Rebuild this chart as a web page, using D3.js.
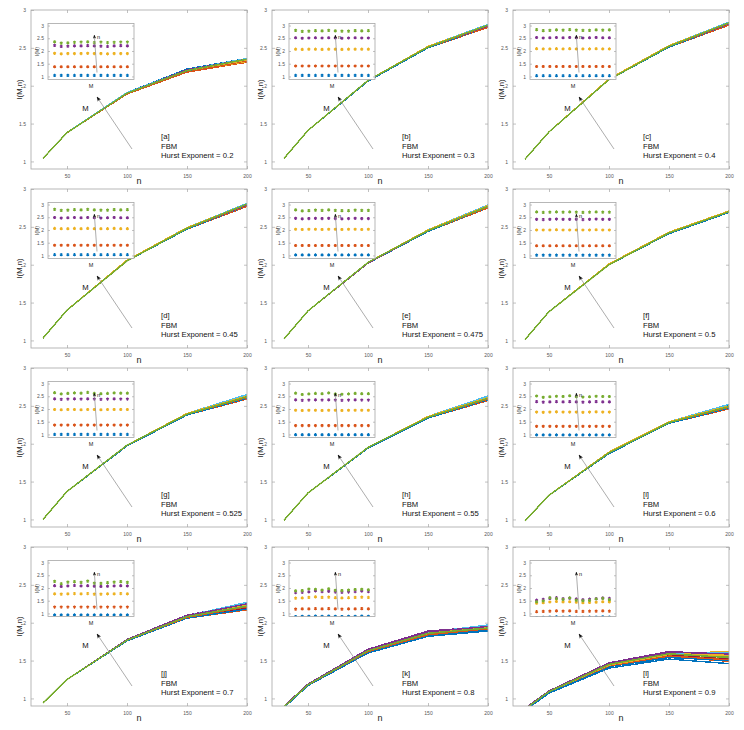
<!DOCTYPE html>
<html>
<head>
<meta charset="utf-8">
<script src="https://cdn.jsdelivr.net/npm/d3@7"></script>
<style>
  body { margin: 0; background: #fff; }
  text { font-family: "Liberation Sans", Arial, Helvetica, sans-serif; }
</style>
</head>
<body>
<div id="chart"></div>
<script>
var svgWidth = 744;
var svgHeight = 730;

// n on the x axis of the main plots, M along the inset x axis
var nValues = [30, 50, 100, 150, 200];
var mValues = [1, 2, 3, 4, 5, 6, 7, 8, 9, 10, 11, 12];
var panelTags = ["a", "b", "c", "d", "e", "f", "g", "h", "i", "j", "k", "l"];
var hurstValues = [0.2, 0.3, 0.4, 0.45, 0.475, 0.5, 0.525, 0.55, 0.6, 0.7, 0.8, 0.9];
var yTicks = [1, 1.5, 2, 2.5, 3];
var xTicks = [50, 100, 150, 200];
var matlabColors = ["#0072BD", "#D95319", "#EDB120", "#7E2F8E", "#77AC30", "#4DBEEE", "#A2142F"];

// I(M,n): one row per n (30, 50, 100, 150, 200), twelve values along M
var valuesA = [
  [1.04, 1.04, 1.04, 1.04, 1.04, 1.04, 1.04, 1.04, 1.04, 1.04, 1.04, 1.04],
  [1.38, 1.38, 1.38, 1.38, 1.38, 1.38, 1.38, 1.38, 1.38, 1.38, 1.38, 1.38],
  [1.91, 1.89, 1.90, 1.90, 1.90, 1.91, 1.90, 1.90, 1.89, 1.90, 1.90, 1.90],
  [2.22, 2.18, 2.19, 2.20, 2.20, 2.21, 2.20, 2.19, 2.18, 2.20, 2.21, 2.20],
  [2.36, 2.31, 2.32, 2.34, 2.35, 2.36, 2.33, 2.35, 2.33, 2.34, 2.35, 2.35]
];
var valuesB = [
  [1.04, 1.04, 1.04, 1.04, 1.04, 1.04, 1.04, 1.04, 1.04, 1.04, 1.04, 1.04],
  [1.41, 1.41, 1.41, 1.41, 1.41, 1.41, 1.41, 1.41, 1.41, 1.41, 1.41, 1.41],
  [2.07, 2.06, 2.07, 2.07, 2.06, 2.07, 2.07, 2.06, 2.07, 2.07, 2.07, 2.07],
  [2.52, 2.50, 2.51, 2.52, 2.51, 2.52, 2.51, 2.50, 2.51, 2.52, 2.51, 2.51],
  [2.81, 2.77, 2.78, 2.80, 2.79, 2.81, 2.79, 2.78, 2.78, 2.80, 2.79, 2.80]
];
var valuesC = [
  [1.03, 1.03, 1.03, 1.03, 1.03, 1.03, 1.03, 1.03, 1.03, 1.03, 1.03, 1.03],
  [1.39, 1.39, 1.39, 1.39, 1.39, 1.39, 1.39, 1.39, 1.39, 1.39, 1.39, 1.39],
  [2.09, 2.08, 2.08, 2.09, 2.08, 2.09, 2.08, 2.08, 2.08, 2.09, 2.08, 2.08],
  [2.53, 2.51, 2.52, 2.53, 2.52, 2.53, 2.52, 2.51, 2.52, 2.53, 2.52, 2.52],
  [2.84, 2.80, 2.81, 2.83, 2.82, 2.84, 2.82, 2.81, 2.81, 2.83, 2.82, 2.83]
];
var valuesD = [
  [1.03, 1.03, 1.03, 1.03, 1.03, 1.03, 1.03, 1.03, 1.03, 1.03, 1.03, 1.03],
  [1.40, 1.40, 1.40, 1.40, 1.40, 1.40, 1.40, 1.40, 1.40, 1.40, 1.40, 1.40],
  [2.06, 2.05, 2.05, 2.06, 2.05, 2.06, 2.05, 2.05, 2.05, 2.06, 2.05, 2.05],
  [2.49, 2.47, 2.48, 2.49, 2.48, 2.49, 2.48, 2.47, 2.48, 2.49, 2.48, 2.48],
  [2.81, 2.77, 2.78, 2.80, 2.79, 2.81, 2.79, 2.78, 2.78, 2.80, 2.79, 2.80]
];
var valuesE = [
  [1.02, 1.02, 1.02, 1.02, 1.02, 1.02, 1.02, 1.02, 1.02, 1.02, 1.02, 1.02],
  [1.39, 1.39, 1.39, 1.39, 1.39, 1.39, 1.39, 1.39, 1.39, 1.39, 1.39, 1.39],
  [2.03, 2.02, 2.03, 2.03, 2.02, 2.03, 2.03, 2.02, 2.03, 2.03, 2.02, 2.03],
  [2.46, 2.44, 2.45, 2.46, 2.45, 2.46, 2.45, 2.44, 2.45, 2.46, 2.45, 2.45],
  [2.79, 2.75, 2.76, 2.78, 2.77, 2.79, 2.77, 2.76, 2.76, 2.78, 2.77, 2.77]
];
var valuesF = [
  [1.01, 1.01, 1.01, 1.01, 1.01, 1.01, 1.01, 1.01, 1.01, 1.01, 1.01, 1.01],
  [1.38, 1.38, 1.38, 1.38, 1.38, 1.38, 1.38, 1.38, 1.38, 1.38, 1.38, 1.38],
  [2.00, 2.00, 2.00, 2.01, 2.00, 2.00, 2.00, 2.00, 2.00, 2.01, 2.00, 2.00],
  [2.42, 2.41, 2.42, 2.43, 2.42, 2.42, 2.42, 2.41, 2.42, 2.43, 2.42, 2.42],
  [2.71, 2.69, 2.70, 2.71, 2.70, 2.71, 2.70, 2.69, 2.70, 2.71, 2.70, 2.70]
];
var valuesG = [
  [1.00, 1.00, 1.00, 1.00, 1.00, 1.00, 1.00, 1.00, 1.00, 1.00, 1.00, 1.00],
  [1.37, 1.37, 1.37, 1.37, 1.37, 1.37, 1.37, 1.37, 1.37, 1.37, 1.37, 1.37],
  [1.98, 1.97, 1.98, 1.98, 1.97, 1.98, 1.98, 1.97, 1.98, 1.98, 1.98, 1.98],
  [2.40, 2.38, 2.39, 2.40, 2.39, 2.40, 2.39, 2.38, 2.39, 2.40, 2.39, 2.39],
  [2.64, 2.59, 2.61, 2.63, 2.62, 2.65, 2.61, 2.60, 2.61, 2.63, 2.62, 2.62]
];
var valuesH = [
  [0.99, 0.99, 0.99, 0.99, 0.99, 0.99, 0.99, 0.99, 0.99, 0.99, 0.99, 0.99],
  [1.35, 1.35, 1.35, 1.35, 1.35, 1.35, 1.35, 1.35, 1.35, 1.35, 1.35, 1.35],
  [1.95, 1.94, 1.95, 1.95, 1.94, 1.95, 1.95, 1.94, 1.95, 1.95, 1.95, 1.95],
  [2.36, 2.34, 2.35, 2.36, 2.35, 2.36, 2.35, 2.34, 2.35, 2.36, 2.35, 2.35],
  [2.62, 2.57, 2.59, 2.61, 2.60, 2.63, 2.59, 2.58, 2.59, 2.61, 2.60, 2.60]
];
var valuesI = [
  [0.98, 0.98, 0.98, 0.98, 0.98, 0.98, 0.98, 0.98, 0.98, 0.98, 0.98, 0.98],
  [1.32, 1.32, 1.32, 1.32, 1.32, 1.32, 1.32, 1.32, 1.32, 1.32, 1.32, 1.32],
  [1.88, 1.87, 1.88, 1.89, 1.88, 1.88, 1.88, 1.87, 1.88, 1.89, 1.88, 1.88],
  [2.29, 2.27, 2.28, 2.29, 2.28, 2.29, 2.28, 2.27, 2.28, 2.29, 2.28, 2.28],
  [2.51, 2.46, 2.48, 2.50, 2.49, 2.52, 2.48, 2.47, 2.48, 2.50, 2.49, 2.49]
];
var valuesJ = [
  [0.94, 0.94, 0.94, 0.94, 0.94, 0.94, 0.94, 0.94, 0.94, 0.94, 0.94, 0.94],
  [1.25, 1.25, 1.25, 1.25, 1.25, 1.25, 1.25, 1.25, 1.25, 1.25, 1.25, 1.25],
  [1.77, 1.76, 1.77, 1.78, 1.77, 1.78, 1.76, 1.76, 1.77, 1.77, 1.78, 1.77],
  [2.09, 2.06, 2.08, 2.10, 2.08, 2.09, 2.07, 2.06, 2.07, 2.08, 2.09, 2.08],
  [2.26, 2.17, 2.23, 2.25, 2.22, 2.27, 2.19, 2.18, 2.21, 2.23, 2.25, 2.22]
];
var valuesK = [
  [0.88, 0.89, 0.89, 0.90, 0.89, 0.90, 0.89, 0.88, 0.89, 0.89, 0.90, 0.89],
  [1.17, 1.18, 1.18, 1.19, 1.18, 1.19, 1.18, 1.17, 1.18, 1.18, 1.19, 1.18],
  [1.60, 1.61, 1.63, 1.65, 1.63, 1.64, 1.62, 1.61, 1.62, 1.63, 1.64, 1.63],
  [1.82, 1.83, 1.85, 1.89, 1.86, 1.87, 1.84, 1.83, 1.84, 1.86, 1.88, 1.86],
  [1.89, 1.90, 1.96, 1.95, 1.92, 1.97, 1.91, 1.90, 1.92, 1.94, 1.95, 1.93]
];
var valuesL = [
  [0.84, 0.85, 0.86, 0.87, 0.86, 0.87, 0.85, 0.85, 0.86, 0.86, 0.87, 0.86],
  [1.07, 1.08, 1.09, 1.10, 1.09, 1.10, 1.08, 1.08, 1.09, 1.09, 1.10, 1.09],
  [1.40, 1.42, 1.45, 1.47, 1.45, 1.46, 1.44, 1.42, 1.43, 1.44, 1.46, 1.45],
  [1.52, 1.55, 1.59, 1.62, 1.58, 1.60, 1.57, 1.54, 1.56, 1.58, 1.61, 1.59],
  [1.46, 1.49, 1.62, 1.58, 1.55, 1.61, 1.52, 1.50, 1.51, 1.57, 1.59, 1.54]
];

var panelValues = [valuesA, valuesB, valuesC, valuesD, valuesE, valuesF,
                   valuesG, valuesH, valuesI, valuesJ, valuesK, valuesL];

var panelW = 216, panelH = 159;
var colStep = 241, rowStep = 179;
var inset = { x: 17, y: 13.5, w: 86, h: 56 };
var axisGrey = "#a6a6a6";

var svg = d3.select("#chart")
  .append("svg")
  .attr("width", svgWidth)
  .attr("height", svgHeight);

var defs = svg.append("defs");

function addHead(id, size) {
  defs.append("marker")
    .attr("id", id)
    .attr("viewBox", "0 0 10 10")
    .attr("refX", 9)
    .attr("refY", 5)
    .attr("markerWidth", size)
    .attr("markerHeight", size)
    .attr("markerUnits", "userSpaceOnUse")
    .attr("orient", "auto")
    .append("path")
    .attr("d", "M0,1 L10,5 L0,9 L2.5,5 Z")
    .attr("fill", "#111");
}
addHead("headBig", 5);
addHead("headSmall", 4);

var x = d3.scaleLinear().domain([20, 200]).range([0, panelW]);
var y = d3.scaleLinear().domain([0.9, 3]).range([panelH, 0]);
var xIn = d3.scaleLinear().domain([0, 13]).range([0, inset.w]);
var yIn = d3.scaleLinear().domain([0.88, 3.08]).range([inset.h, 0]);

var line = d3.line()
  .x(d => x(d.n))
  .y(d => y(d.v));

var marker = d3.symbol().type(d3.symbolAsterisk || d3.symbolCross).size(7);

function styleAxis(sel, fontSize) {
  sel.select(".domain").remove();
  sel.selectAll(".tick line").attr("stroke", axisGrey).attr("stroke-width", 0.7);
  sel.selectAll(".tick text")
    .attr("fill", "#555")
    .attr("font-size", fontSize)
    .attr("font-family", "'Liberation Sans', Arial, sans-serif");
}

panelValues.forEach(function(vals, k) {
  var col = k % 3, row = Math.floor(k / 3);
  var g = svg.append("g")
    .attr("transform", `translate(${31 + col * colStep}, ${10 + row * rowStep})`);

  defs.append("clipPath").attr("id", "clip" + k)
    .append("rect").attr("width", panelW).attr("height", panelH);
  defs.append("clipPath").attr("id", "clipIn" + k)
    .append("rect").attr("width", inset.w).attr("height", inset.h);

  // axes (MATLAB style: ticks inside, box on)
  g.append("g")
    .attr("transform", `translate(0, ${panelH})`)
    .call(d3.axisBottom(x).tickValues(xTicks).tickSize(-3).tickPadding(5))
    .call(s => styleAxis(s, 5));
  g.append("g")
    .call(d3.axisTop(x).tickValues(xTicks).tickSize(-3).tickFormat(""))
    .call(s => styleAxis(s, 5));
  g.append("g")
    .call(d3.axisLeft(y).tickValues(yTicks).tickSize(-3).tickPadding(5).tickFormat(d3.format("")))
    .call(s => styleAxis(s, 5));
  g.append("g")
    .attr("transform", `translate(${panelW}, 0)`)
    .call(d3.axisRight(y).tickValues(yTicks).tickSize(-3).tickFormat(""))
    .call(s => styleAxis(s, 5));

  // lines, one per M, drawn crisp so the last one keeps its own colour,
  // then the last one again with smoothing on top
  var plot = g.append("g").attr("clip-path", `url(#clip${k})`);
  var series = mValues.map((m, j) => nValues.map((n, i) => ({ n: n, v: vals[i][j] })));
  series.forEach(function(pts, j) {
    plot.append("path")
      .datum(pts)
      .attr("fill", "none")
      .attr("stroke", matlabColors[j % matlabColors.length])
      .attr("stroke-width", 1.4)
      .attr("shape-rendering", "crispEdges")
      .attr("d", line);
  });
  var last = series.length - 1;
  plot.append("path")
    .datum(series[last])
    .attr("fill", "none")
    .attr("stroke", matlabColors[last % matlabColors.length])
    .attr("stroke-width", 1.2)
    .attr("stroke-linejoin", "round")
    .attr("d", line);

  g.append("rect")
    .attr("width", panelW).attr("height", panelH)
    .attr("fill", "none").attr("stroke", axisGrey).attr("stroke-width", 0.8);

  g.append("text")
    .attr("transform", `translate(-9.5, ${panelH / 2}) rotate(-90)`)
    .attr("text-anchor", "middle")
    .attr("font-size", 7.7)
    .attr("fill", "#222")
    .text("I(M,n)");
  g.append("text")
    .attr("x", panelW / 2).attr("y", panelH + 15)
    .attr("text-anchor", "middle")
    .attr("font-size", 9)
    .attr("fill", "#222")
    .text("n");

  // arrow and M label
  g.append("line")
    .attr("x1", 101).attr("y1", 139).attr("x2", 66).attr("y2", 87)
    .attr("stroke", "#8a8a8a").attr("stroke-width", 0.7)
    .attr("marker-end", "url(#headBig)");
  g.append("text")
    .attr("x", 54.5).attr("y", 101)
    .attr("text-anchor", "middle")
    .attr("font-size", 7.7)
    .attr("fill", "#111")
    .text("M");

  // panel annotation
  var note = g.append("text")
    .attr("x", 130).attr("y", 129)
    .attr("font-size", 7.7)
    .attr("fill", "#111");
  [`[${panelTags[k]}]`, "FBM", `Hurst Exponent = ${hurstValues[k]}`].forEach(function(t, i) {
    note.append("tspan").attr("x", 130).attr("y", 129 + i * 9.5).text(t);
  });

  // inset: I(M) against M, one series per n
  var ins = g.append("g").attr("transform", `translate(${inset.x}, ${inset.y})`);
  ins.append("rect")
    .attr("width", inset.w).attr("height", inset.h)
    .attr("fill", "#fff");
  ins.append("g")
    .call(d3.axisLeft(yIn).tickValues(yTicks).tickSize(-2).tickPadding(4).tickFormat(d3.format("")))
    .call(s => styleAxis(s, 5));
  ins.append("g")
    .attr("transform", `translate(${inset.w}, 0)`)
    .call(d3.axisRight(yIn).tickValues(yTicks).tickSize(-2).tickFormat(""))
    .call(s => styleAxis(s, 5));

  var dots = ins.append("g").attr("clip-path", `url(#clipIn${k})`);
  nValues.forEach(function(n, i) {
    dots.selectAll(null)
      .data(mValues)
      .enter()
      .append("path")
      .attr("transform", (m, j) => `translate(${xIn(m)}, ${yIn(vals[i][j])})`)
      .attr("d", marker)
      .attr("fill", "none")
      .attr("stroke", matlabColors[i])
      .attr("stroke-width", 1.1);
  });

  ins.append("rect")
    .attr("width", inset.w).attr("height", inset.h)
    .attr("fill", "none").attr("stroke", axisGrey).attr("stroke-width", 0.8);

  ins.append("line")
    .attr("x1", 49).attr("y1", 49).attr("x2", 46.3).attr("y2", 11.5)
    .attr("stroke", "#8a8a8a").attr("stroke-width", 0.7)
    .attr("marker-end", "url(#headSmall)");
  ins.append("text")
    .attr("x", 49).attr("y", 15.5)
    .attr("font-size", 5.5)
    .attr("fill", "#111")
    .text("n");
  ins.append("text")
    .attr("x", inset.w / 2).attr("y", inset.h + 8)
    .attr("text-anchor", "middle")
    .attr("font-size", 5.5)
    .attr("fill", "#222")
    .text("M");
  ins.append("text")
    .attr("transform", `translate(-9, ${inset.h / 2}) rotate(-90)`)
    .attr("text-anchor", "middle")
    .attr("font-size", 5)
    .attr("fill", "#222")
    .text("I(M)");
});
</script>
</body>
</html>
